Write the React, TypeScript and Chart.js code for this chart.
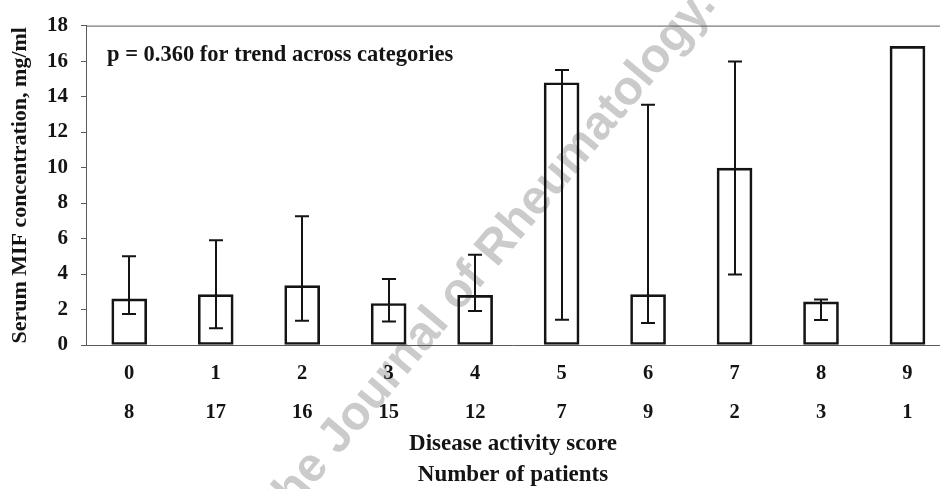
import React, { useEffect, useRef } from 'react';
import { Chart, registerables } from 'chart.js';

Chart.register(...registerables);

const scores = ['0', '1', '2', '3', '4', '5', '6', '7', '8', '9'];
const patients = ['8', '17', '16', '15', '12', '7', '9', '2', '3', '1'];
const means = [2.6, 2.84, 3.35, 2.34, 2.8, 14.78, 2.84, 9.97, 2.43, 16.83];
const errLow: (number | null)[] = [1.75, 0.95, 1.37, 1.32, 1.92, 1.43, 1.24, 3.97, 1.41, null];
const errHigh: (number | null)[] = [5.0, 5.9, 7.26, 3.72, 5.09, 15.5, 13.54, 15.97, 2.56, null];
const yMin = 0;
const yMax = 18;
const yStep = 2;
const annotation = 'p = 0.360 for trend across categories';
const yTitle = 'Serum MIF concentration, mg/ml';
const xTitle = ['Disease activity score', 'Number of patients'];
const watermark = 'The Journal of Rheumatology.';

const SERIF = '"Liberation Serif", "Times New Roman", serif';
const INK = '#141414';
const AXIS = '#5a5a5a';

const decorPlugin = {
  id: 'decor',
  beforeDraw(chart: any) {
    const { ctx } = chart;
    ctx.save();
    ctx.translate(486, 260);
    ctx.rotate((-50 * Math.PI) / 180);
    ctx.font = 'bold 48px "Liberation Sans", Arial, sans-serif';
    ctx.fillStyle = '#cbcbcb';
    ctx.textAlign = 'center';
    ctx.textBaseline = 'middle';
    ctx.fillText(watermark, 0, 0);
    ctx.restore();
  },
  beforeDatasetsDraw(chart: any) {
    const { ctx, chartArea } = chart;
    ctx.save();
    ctx.strokeStyle = AXIS;
    ctx.lineWidth = 1;
    ctx.beginPath();
    ctx.moveTo(chartArea.left, chartArea.top + 0.5);
    ctx.lineTo(chartArea.right, chartArea.top + 0.5);
    ctx.stroke();
    ctx.restore();
  },
  afterDatasetsDraw(chart: any) {
    const { ctx, chartArea, scales } = chart;
    const xs = scales.x;
    const ys = scales.y;
    ctx.save();
    ctx.strokeStyle = INK;
    ctx.lineWidth = 2;
    for (let i = 0; i < means.length; i++) {
      const lo = errLow[i];
      const hi = errHigh[i];
      if (lo == null || hi == null) continue;
      const x = Math.round(xs.getPixelForValue(i));
      const yLo = ys.getPixelForValue(lo);
      const yHi = ys.getPixelForValue(hi);
      const cap = 7;
      ctx.beginPath();
      ctx.moveTo(x, yLo);
      ctx.lineTo(x, yHi);
      ctx.moveTo(x - cap, yHi);
      ctx.lineTo(x + cap, yHi);
      ctx.moveTo(x - cap, yLo);
      ctx.lineTo(x + cap, yLo);
      ctx.stroke();
    }
    ctx.restore();

    ctx.save();
    ctx.fillStyle = INK;
    ctx.font = 'bold 22.5px ' + SERIF;
    ctx.textAlign = 'left';
    ctx.textBaseline = 'alphabetic';
    ctx.fillText(annotation, chartArea.left + 21, chartArea.top + 35);
    ctx.restore();
  },
};

export default function App() {
  const ref = useRef<HTMLCanvasElement | null>(null);

  useEffect(() => {
    if (!ref.current) return;
    const chart = new Chart(ref.current, {
      type: 'bar',
      data: {
        datasets: [
          {
            data: means.map((v, i) => ({ x: i, y: v })),
            backgroundColor: 'rgba(255,255,255,0)',
            borderColor: INK,
            borderWidth: 2,
            borderSkipped: false,
            barThickness: 35,
          },
        ],
      },
      options: {
        animation: false,
        responsive: true,
        maintainAspectRatio: false,
        layout: { padding: { top: 17, right: 0, left: 0, bottom: 0 } },
        plugins: {
          legend: { display: false },
          tooltip: { enabled: false },
        },
        scales: {
          x: {
            type: 'linear',
            offset: false,
            min: -0.5,
            max: 9.376,
            afterBuildTicks: (scale: any) => {
              scale.ticks = scores.map((_, i) => ({ value: i }));
            },
            afterFit: (scale: any) => {
              scale.height = 144;
            },
            grid: { display: false, drawTicks: false },
            border: { display: true, color: AXIS, width: 1 },
            ticks: {
              autoSkip: false,
              maxRotation: 0,
              padding: 9,
              color: INK,
              font: { family: SERIF, size: 20.5, weight: 'bold', lineHeight: 1.9 },
              callback: (_v: any, i: number) => [scores[i], patients[i]],
            },
            title: {
              display: true,
              text: xTitle,
              color: INK,
              font: { family: SERIF, size: 23, weight: 'bold', lineHeight: 1.35 },
              padding: { top: 0, bottom: -2 },
            },
          },
          y: {
            min: yMin,
            max: yMax,
            afterFit: (scale: any) => {
              scale.width = 86;
            },
            grid: {
              display: true,
              drawOnChartArea: false,
              drawTicks: true,
              tickLength: 5,
              color: AXIS,
            },
            border: { display: true, color: AXIS, width: 1 },
            ticks: {
              stepSize: yStep,
              padding: 13,
              color: INK,
              font: { family: SERIF, size: 21, weight: 'bold' },
            },
            title: {
              display: true,
              text: yTitle,
              color: INK,
              font: { family: SERIF, size: 22, weight: 'bold', lineHeight: 1.2 },
              padding: { top: 7, bottom: 0 },
            },
          },
        },
      },
      plugins: [decorPlugin],
    } as any);
    return () => chart.destroy();
  }, []);

  return (
    <div style={{ position: 'fixed', left: 0, top: 0, width: 940, height: 489, background: '#fff' }}>
      <canvas ref={ref} />
    </div>
  );
}
